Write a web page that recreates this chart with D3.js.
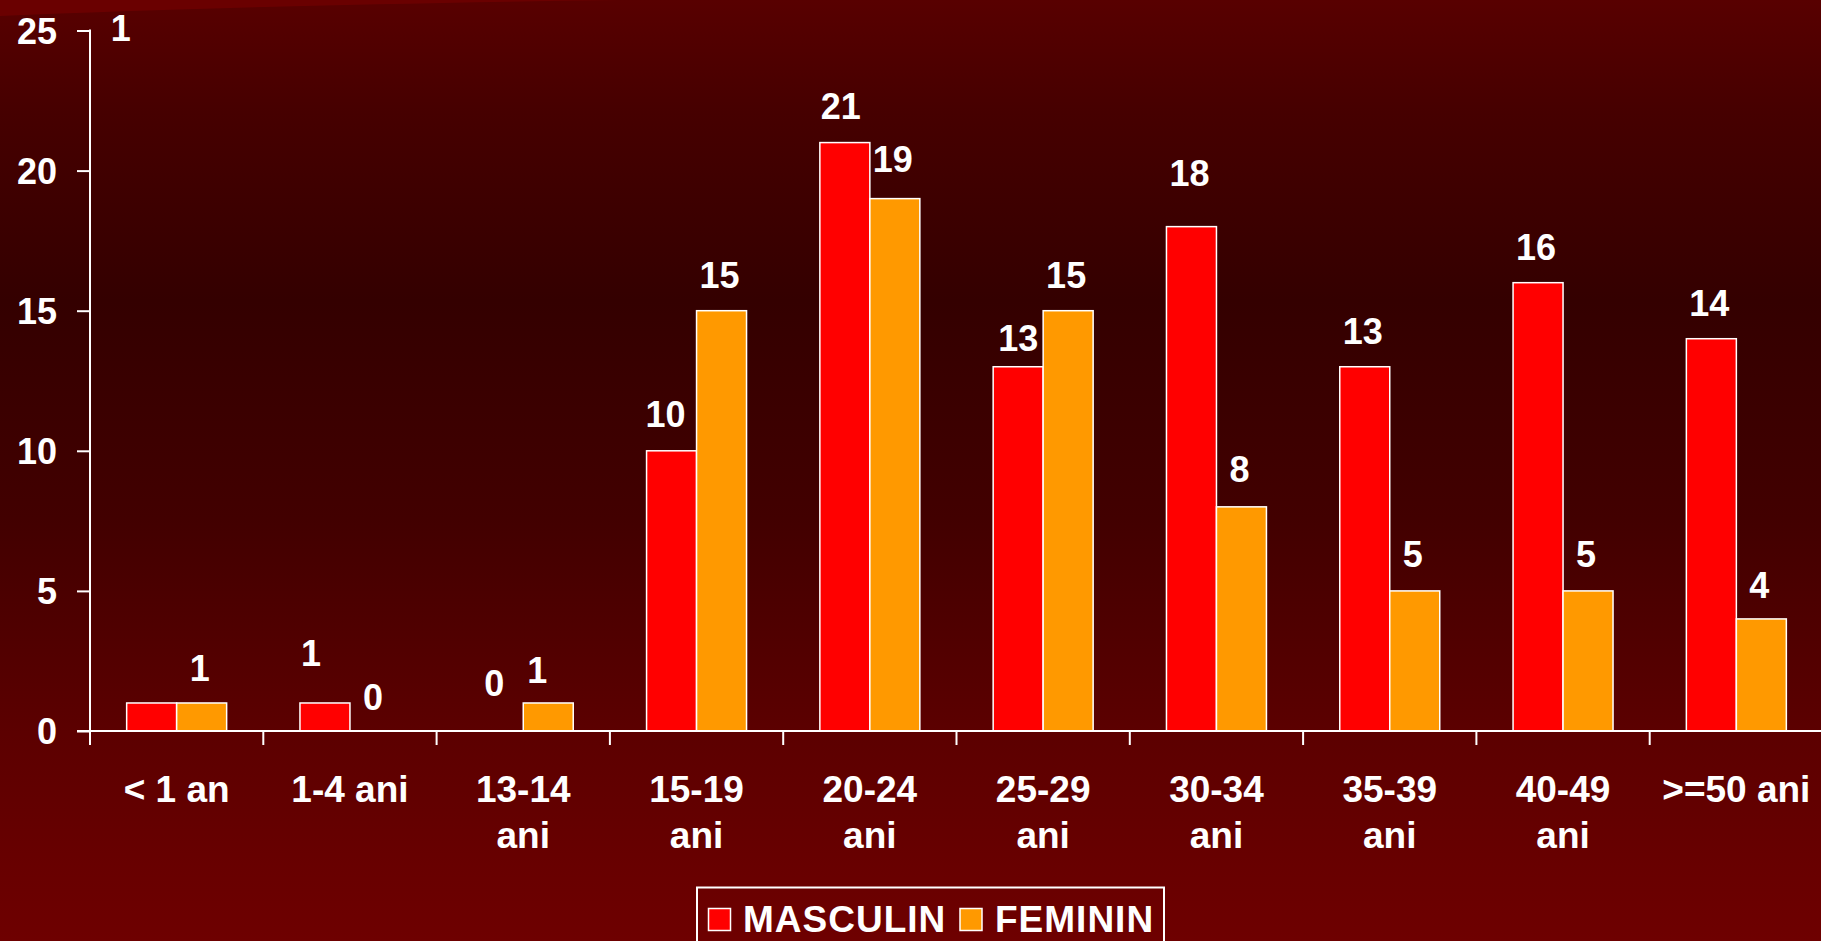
<!DOCTYPE html>
<html>
<head>
<meta charset="utf-8">
<script src="https://cdn.jsdelivr.net/npm/d3@7"></script>
<style>
  html, body { margin: 0; padding: 0; background: #4a0000; overflow: hidden; }
  svg { display: block; }
  text { font-family: "Liberation Sans", Arial, sans-serif; font-weight: bold; fill: #ffffff; }
</style>
</head>
<body>
<svg id="chart" width="1821" height="941"></svg>
<script>
// ---- data ----
const categories = ["< 1 an", "1-4 ani", "13-14 ani", "15-19 ani", "20-24 ani", "25-29 ani", "30-34 ani", "35-39 ani", "40-49 ani", ">=50 ani"];
const categoryLines = [["< 1 an"], ["1-4 ani"], ["13-14", "ani"], ["15-19", "ani"], ["20-24", "ani"], ["25-29", "ani"], ["30-34", "ani"], ["35-39", "ani"], ["40-49", "ani"], [">=50 ani"]];
const seriesNames = ["MASCULIN", "FEMININ"];
const masculin = [1, 1, 0, 10, 21, 13, 18, 13, 16, 14];
const feminin  = [1, 0, 1, 15, 19, 15, 8, 5, 5, 4];
const yTicks = [0, 5, 10, 15, 20, 25];
const yMax = 25;

// label nudges (layout only) [dx, dy]
const nudgeM = [[-29, -639], [-12, -14], [-2, -13], [-4, -1], [-2, -1], [2, 7], [0, -18], [0, 0], [0, 0], [0, 0]];
const nudgeF = [[0, 1], [0, 1], [-9, 3], [0, 0], [0, -4], [0, 0], [0, -2], [0, -1], [0, -1], [0, 2]];

const colors = {"MASCULIN": "#ff0000", "FEMININ": "#ff9900"};

(function () {
const svg = d3.select("#chart");
const W = 1821, H = 941;

// background
const defs = svg.append("defs");
const grad = defs.append("linearGradient").attr("id", "bg").attr("x1", 0).attr("y1", 0).attr("x2", 0).attr("y2", 1);
[[0, "#580000"], [0.12, "#460000"], [0.32, "#340000"], [0.55, "#420000"], [0.78, "#5c0000"], [0.92, "#680000"], [1, "#6e0000"]]
  .forEach(([o, c]) => grad.append("stop").attr("offset", o).attr("stop-color", c));
svg.append("rect").attr("width", W).attr("height", H).attr("fill", "url(#bg)");
svg.append("path").attr("d", "M0,0 L0,16 Q260,5 620,0 Z").attr("fill", "#6a0000");

// scales
const pL = 90, pR = 1823, pT = 30.5, pB = 731;
const x0 = d3.scaleBand().domain(categories).range([pL, pR]).paddingInner(0).paddingOuter(0);
const x1 = d3.scaleBand().domain(seriesNames).range([0, x0.bandwidth()]).paddingInner(0).paddingOuter(0.7333);
const y = d3.scaleLinear().domain([0, yMax]).range([pB, pT]);

// y axis
const yAxis = d3.axisLeft(y).tickValues(yTicks).tickSize(13).tickPadding(20).tickFormat(d3.format("d"));
const gy = svg.append("g").attr("transform", `translate(${pL},0)`).call(yAxis);
gy.select(".domain").remove();
gy.selectAll(".tick line").attr("stroke", "#fff").attr("stroke-width", 2);
gy.selectAll(".tick text").style("font-size", "36px").attr("fill", "#fff").attr("dy", "0.35em");
svg.append("line").attr("x1", pL).attr("x2", pL).attr("y1", pT - 1).attr("y2", pB + 14)
  .attr("stroke", "#fff").attr("stroke-width", 2);

// bars
const data = categories.map((c, i) => ({c, i, vals: [
  {s: "MASCULIN", v: masculin[i], n: nudgeM[i]},
  {s: "FEMININ", v: feminin[i], n: nudgeF[i]}
]}));

const groups = svg.append("g").selectAll("g").data(data).join("g")
  .attr("transform", d => `translate(${x0(d.c)},0)`);

groups.selectAll("rect").data(d => d.vals.filter(v => v.v > 0)).join("rect")
  .attr("x", d => x1(d.s))
  .attr("y", d => y(d.v))
  .attr("width", x1.bandwidth())
  .attr("height", d => y(0) - y(d.v))
  .attr("fill", d => colors[d.s])
  .attr("stroke", "#fff")
  .attr("stroke-width", 1.5);

groups.selectAll("text.val").data(d => d.vals).join("text")
  .attr("class", "val")
  .attr("x", d => x1(d.s) + x1.bandwidth() / 2 - 2 + d.n[0])
  .attr("y", d => y(d.v) - 35 + d.n[1])
  .attr("text-anchor", "middle")
  .attr("dominant-baseline", "central")
  .style("font-size", "36px")
  .text(d => d.v);

// x axis
svg.append("line").attr("x1", 77).attr("x2", W).attr("y1", pB).attr("y2", pB)
  .attr("stroke", "#fff").attr("stroke-width", 2);
svg.append("g").selectAll("line").data(categories.slice(1)).join("line")
  .attr("x1", d => x0(d)).attr("x2", d => x0(d))
  .attr("y1", pB).attr("y2", pB + 14)
  .attr("stroke", "#fff").attr("stroke-width", 2);

const xl = svg.append("g").selectAll("text").data(categories).join("text")
  .attr("text-anchor", "middle")
  .attr("x", d => x0(d) + x0.bandwidth() / 2)
  .attr("y", 802)
  .style("font-size", "37px");
xl.each(function(d, i) {
  const t = d3.select(this);
  categoryLines[i].forEach((ln, k) => {
    t.append("tspan").attr("x", x0(d) + x0.bandwidth() / 2).attr("dy", k === 0 ? 0 : 46).text(ln);
  });
});

// legend
const lg = svg.append("g");
lg.append("rect").attr("x", 697).attr("y", 887.5).attr("width", 467).attr("height", 80)
  .attr("fill", "none").attr("stroke", "#fff").attr("stroke-width", 2);
const legItems = [{s: "MASCULIN", bx: 708.5, tx: 743}, {s: "FEMININ", bx: 960, tx: 995}];
legItems.forEach(it => {
  lg.append("rect").attr("x", it.bx).attr("y", 908.5).attr("width", 22).attr("height", 22)
    .attr("fill", colors[it.s]).attr("stroke", "#fff").attr("stroke-width", 1.5);
  lg.append("text").attr("x", it.tx).attr("y", 932).style("font-size", "37px")
    .style("letter-spacing", "1px").text(it.s);
});
})();
</script>
</body>
</html>
